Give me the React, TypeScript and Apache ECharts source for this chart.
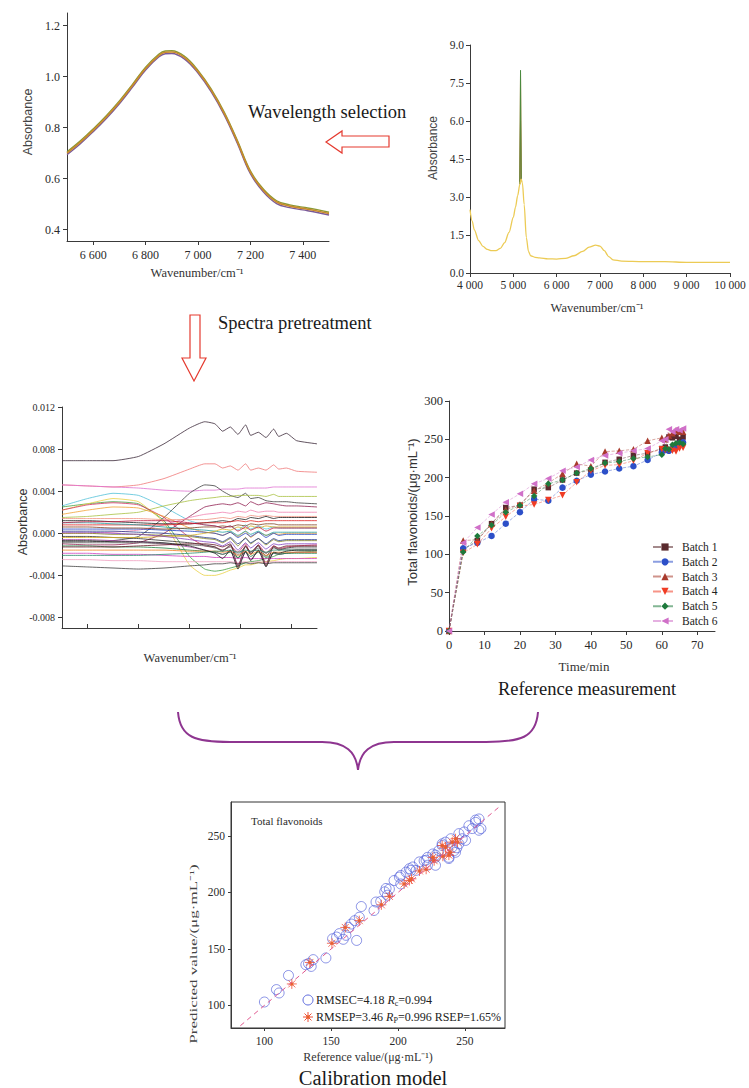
import React, { useEffect, useRef } from 'react';
import * as echarts from 'echarts';

const SERIF = "'Liberation Serif', 'Times New Roman', serif";
const SANS = "'Liberation Sans', Arial, sans-serif";

// ---------- Panel 1: selected wavelength region ----------
const SPEC1_X = [6500, 6550, 6600, 6650, 6700, 6750, 6800, 6850, 6875, 6900, 6950, 7000, 7050, 7100, 7150, 7200, 7250, 7300, 7350, 7400, 7450, 7500];
const SPEC1_ORANGE = [0.700, 0.742, 0.790, 0.842, 0.900, 0.965, 1.032, 1.083, 1.096, 1.097, 1.074, 1.020, 0.947, 0.856, 0.745, 0.625, 0.553, 0.508, 0.492, 0.483, 0.474, 0.463];
const SPEC1_PURPLE = [0.694, 0.736, 0.784, 0.836, 0.894, 0.959, 1.026, 1.077, 1.090, 1.091, 1.068, 1.014, 0.941, 0.850, 0.739, 0.619, 0.547, 0.502, 0.486, 0.477, 0.468, 0.457];
const SPEC1_OLIVE = [0.705, 0.747, 0.795, 0.847, 0.905, 0.970, 1.037, 1.088, 1.101, 1.102, 1.079, 1.025, 0.952, 0.861, 0.750, 0.630, 0.558, 0.513, 0.497, 0.488, 0.479, 0.468];
const SPEC1_Y_TICKS = [0.4, 0.6, 0.8, 1.0, 1.2];
const SPEC1_X_TICKS = [6600, 6800, 7000, 7200, 7400];

// ---------- Panel 2: full raw spectrum ----------
const SPEC2_X = [4000, 4050, 4100, 4200, 4300, 4400, 4500, 4600, 4700, 4800, 4900, 5000, 5050, 5100, 5150, 5180, 5210, 5250, 5300, 5350, 5400, 5500, 5600, 5800, 6000, 6200, 6400, 6600, 6750, 6900, 7000, 7100, 7200, 7300, 7500, 8000, 8500, 9000, 9500, 10000];
const SPEC2_Y = [2.50, 2.05, 1.70, 1.28, 1.05, 0.93, 0.88, 0.88, 0.97, 1.20, 1.60, 2.20, 2.60, 3.05, 3.50, 3.70, 3.55, 2.70, 1.40, 0.85, 0.68, 0.62, 0.60, 0.56, 0.55, 0.58, 0.68, 0.85, 1.02, 1.10, 1.06, 0.88, 0.65, 0.52, 0.47, 0.45, 0.45, 0.42, 0.42, 0.42];
const SPIKE_X = [5150, 5166, 5182];
const SPIKE_GREEN = [3.5, 8.0, 3.7];
const SPIKE_ORANGE = [3.5, 7.9, 3.7];
const SPIKE_BROWN = [3.6, 6.0, 3.7];

// ---------- Panel 3: pretreated spectra ----------
const PRE_X = [6500, 6600, 6700, 6800, 6900, 7000, 7060, 7100, 7130, 7160, 7190, 7220, 7240, 7270, 7300, 7330, 7350, 7380, 7420, 7500];
const preTop = [0.0069, 0.0069, 0.0069, 0.0073, 0.0085, 0.0100, 0.0106, 0.0104, 0.0097, 0.0101, 0.0094, 0.0103, 0.0093, 0.0096, 0.0091, 0.0099, 0.0092, 0.0095, 0.0088, 0.0085];
const preRed = [0.0046, 0.0045, 0.0044, 0.0046, 0.0052, 0.0061, 0.0066, 0.0066, 0.0062, 0.0064, 0.0060, 0.0066, 0.0060, 0.0062, 0.0060, 0.0065, 0.0061, 0.0062, 0.0059, 0.0058];
const preMagenta = [0.0046, 0.0045, 0.0044, 0.0043, 0.0041, 0.0040, 0.0041, 0.0041, 0.0042, 0.0042, 0.0042, 0.0043, 0.0043, 0.0043, 0.0043, 0.0044, 0.0044, 0.0044, 0.0044, 0.0044];
const preCyan = [0.0026, 0.0033, 0.0038, 0.0036, 0.0025, 0.0012, 0.0008, 0.0007, 0.0005, 0.0007, 0.0003, 0.0008, 0.0004, 0.0007, 0.0004, 0.0006, 0.0005, 0.0005, 0.0005, 0.0005];
const preGreen = [0.0025, 0.0028, 0.0030, 0.0028, 0.0012, -0.0022, -0.0034, -0.0036, -0.0035, -0.0033, -0.0031, -0.0028, -0.0027, -0.0026, -0.0024, -0.0022, -0.0020, -0.0019, -0.0018, -0.0017];
const preYellow = [0.0022, 0.0028, 0.0033, 0.0030, 0.0010, -0.0030, -0.0040, -0.0040, -0.0038, -0.0035, -0.0033, -0.0030, -0.0030, -0.0028, -0.0027, -0.0026, -0.0025, -0.0024, -0.0024, -0.0023];
const preDark = [-0.0008, -0.0008, -0.0007, -0.0003, 0.0015, 0.0038, 0.0046, 0.0045, 0.0040, 0.0036, 0.0034, 0.0038, 0.0033, 0.0034, 0.0031, 0.0030, 0.0030, 0.0030, 0.0029, 0.0028];
const preLime = [0.0015, 0.0016, 0.0018, 0.0020, 0.0026, 0.0031, 0.0033, 0.0034, 0.0035, 0.0035, 0.0036, 0.0036, 0.0036, 0.0036, 0.0035, 0.0037, 0.0035, 0.0035, 0.0035, 0.0035];
const preCrimson = [0.0022, 0.0027, 0.0029, 0.0027, 0.0015, -0.0004, -0.0012, -0.0013, -0.0016, -0.0012, -0.0018, -0.0010, -0.0020, -0.0011, -0.0019, -0.0012, -0.0015, -0.0013, -0.0012, -0.0011];
const preOrange = [0.0018, 0.0022, 0.0025, 0.0024, 0.0016, 0.0005, 0.0001, 0.0000, -0.0002, 0.0001, -0.0003, 0.0002, -0.0004, 0.0001, -0.0002, 0.0000, -0.0001, 0.0000, 0.0000, 0.0000];
const preWine = [-0.0010, -0.0011, -0.0011, -0.0009, 0.0000, 0.0016, 0.0025, 0.0027, 0.0028, 0.0027, 0.0029, 0.0026, 0.0030, 0.0027, 0.0029, 0.0028, 0.0027, 0.0026, 0.0026, 0.0025];
const prePink = [0.0000, 0.0000, 0.0001, 0.0003, 0.0008, 0.0015, 0.0018, 0.0019, 0.0020, 0.0019, 0.0021, 0.0020, 0.0022, 0.0020, 0.0021, 0.0021, 0.0020, 0.0020, 0.0020, 0.0020];
const preBlack = [0.0012, 0.0012, 0.0011, 0.0010, 0.0009, 0.0009, 0.0010, 0.0011, 0.0012, 0.0011, 0.0014, 0.0013, 0.0015, 0.0014, 0.0016, 0.0014, 0.0015, 0.0015, 0.0015, 0.0015];
const preScarlet = [0.0008, 0.0008, 0.0008, 0.0008, 0.0008, 0.0009, 0.0010, 0.0010, 0.0010, 0.0011, 0.0012, 0.0011, 0.0012, 0.0011, 0.0012, 0.0012, 0.0012, 0.0012, 0.0012, 0.0012];
const preBlue = [0.0004, 0.0004, 0.0004, 0.0004, 0.0003, 0.0002, 0.0001, 0.0000, -0.0002, 0.0001, -0.0004, 0.0000, -0.0003, 0.0001, -0.0004, 0.0000, -0.0002, -0.0001, -0.0001, -0.0001];
const preOlive = [0.0000, 0.0000, -0.0001, -0.0001, -0.0002, -0.0003, -0.0005, -0.0006, -0.0009, -0.0005, -0.0012, -0.0004, -0.0010, -0.0005, -0.0011, -0.0006, -0.0008, -0.0007, -0.0007, -0.0007];
const preCharcoal = [-0.0003, -0.0003, -0.0004, -0.0005, -0.0007, -0.0009, -0.0011, -0.0013, -0.0017, -0.0011, -0.0024, -0.0012, -0.0020, -0.0012, -0.0022, -0.0013, -0.0016, -0.0014, -0.0013, -0.0013];
const prePurple = [-0.0006, -0.0006, -0.0007, -0.0008, -0.0010, -0.0013, -0.0016, -0.0018, -0.0020, -0.0017, -0.0030, -0.0018, -0.0025, -0.0017, -0.0028, -0.0019, -0.0020, -0.0019, -0.0018, -0.0018];
const preForest = [-0.0012, -0.0012, -0.0013, -0.0013, -0.0014, -0.0016, -0.0017, -0.0018, -0.0020, -0.0018, -0.0023, -0.0018, -0.0022, -0.0018, -0.0023, -0.0019, -0.0020, -0.0019, -0.0019, -0.0019];
const preOrchid = [-0.0019, -0.0019, -0.0020, -0.0020, -0.0021, -0.0022, -0.0022, -0.0023, -0.0023, -0.0023, -0.0024, -0.0023, -0.0024, -0.0024, -0.0024, -0.0024, -0.0024, -0.0024, -0.0024, -0.0024];
const preRose = [-0.0025, -0.0025, -0.0026, -0.0026, -0.0027, -0.0027, -0.0027, -0.0027, -0.0027, -0.0027, -0.0028, -0.0027, -0.0028, -0.0027, -0.0028, -0.0027, -0.0027, -0.0027, -0.0027, -0.0027];
const preBottom = [-0.0031, -0.0032, -0.0033, -0.0034, -0.0033, -0.0031, -0.0030, -0.0029, -0.0029, -0.0028, -0.0029, -0.0028, -0.0029, -0.0028, -0.0029, -0.0028, -0.0028, -0.0028, -0.0028, -0.0028];
const preTeal = [0.0010, 0.0010, 0.0009, 0.0008, 0.0006, 0.0004, 0.0003, 0.0002, 0.0001, 0.0002, -0.0002, 0.0002, -0.0001, 0.0002, -0.0002, 0.0001, 0.0001, 0.0001, 0.0001, 0.0001];
const preAmber = [-0.0016, -0.0016, -0.0016, -0.0016, -0.0016, -0.0017, -0.0017, -0.0017, -0.0018, -0.0017, -0.0021, -0.0017, -0.0020, -0.0017, -0.0021, -0.0018, -0.0018, -0.0018, -0.0018, -0.0018];
const preBrown = [0.0006, 0.0006, 0.0005, 0.0005, 0.0004, 0.0005, 0.0006, 0.0006, 0.0007, 0.0006, 0.0008, 0.0007, 0.0009, 0.0008, 0.0009, 0.0009, 0.0008, 0.0008, 0.0008, 0.0008];
const preGray = [-0.0009, -0.0009, -0.0009, -0.0009, -0.0010, -0.0011, -0.0012, -0.0014, -0.0016, -0.0013, -0.0020, -0.0013, -0.0018, -0.0014, -0.0019, -0.0014, -0.0015, -0.0015, -0.0015, -0.0015];
const preNavy = [0.0002, 0.0002, 0.0002, 0.0001, 0.0000, -0.0002, -0.0004, -0.0005, -0.0008, -0.0004, -0.0010, -0.0005, -0.0009, -0.0005, -0.0010, -0.0005, -0.0007, -0.0006, -0.0006, -0.0006];
const preMaroon = [-0.0013, -0.0013, -0.0013, -0.0012, -0.0011, -0.0010, -0.0010, -0.0011, -0.0013, -0.0010, -0.0032, -0.0012, -0.0018, -0.0011, -0.0031, -0.0012, -0.0014, -0.0012, -0.0012, -0.0012];
const preSalmon = [0.0014, 0.0014, 0.0014, 0.0014, 0.0013, 0.0013, 0.0013, 0.0014, 0.0015, 0.0014, 0.0016, 0.0015, 0.0017, 0.0016, 0.0017, 0.0016, 0.0016, 0.0016, 0.0016, 0.0016];
const preGold = [-0.0004, -0.0004, -0.0004, -0.0004, -0.0003, -0.0002, 0.0000, 0.0002, 0.0004, 0.0003, 0.0006, 0.0004, 0.0007, 0.0005, 0.0007, 0.0006, 0.0006, 0.0006, 0.0006, 0.0006];
const preViolet = [0.0001, 0.0001, 0.0000, -0.0001, -0.0003, -0.0006, -0.0008, -0.0009, -0.0012, -0.0008, -0.0016, -0.0009, -0.0014, -0.0009, -0.0015, -0.0010, -0.0011, -0.0010, -0.0010, -0.0010];
const preSea = [-0.0021, -0.0021, -0.0021, -0.0021, -0.0020, -0.0019, -0.0018, -0.0017, -0.0017, -0.0016, -0.0018, -0.0016, -0.0017, -0.0016, -0.0018, -0.0016, -0.0016, -0.0016, -0.0016, -0.0016];
const preRuby = [0.0010, 0.0011, 0.0011, 0.0012, 0.0012, 0.0010, 0.0008, 0.0007, 0.0005, 0.0007, 0.0002, 0.0006, 0.0003, 0.0006, 0.0002, 0.0005, 0.0005, 0.0005, 0.0005, 0.0005];
const preInk = [-0.0007, -0.0007, -0.0008, -0.0008, -0.0009, -0.0012, -0.0016, -0.0019, -0.0024, -0.0016, -0.0034, -0.0017, -0.0026, -0.0016, -0.0032, -0.0018, -0.0019, -0.0017, -0.0016, -0.0016];
const PRE_LINES = [preTop, preRed, preMagenta, preCyan, preGreen, preYellow, preDark, preLime, preCrimson, preOrange, preWine, prePink, preBlack, preScarlet, preBlue, preOlive, preCharcoal, prePurple, preForest, preOrchid, preRose, preBottom, preTeal, preAmber, preBrown, preGray, preNavy, preMaroon, preSalmon, preGold, preViolet, preSea, preRuby, preInk];
const PRE_COLORS = ['#3b2838', '#f07878', '#e070d0', '#50c0d8', '#40a040', '#e8d040', '#404040', '#a8c040', '#d03060', '#f0a030', '#902050', '#f080b0', '#202020', '#e02020', '#2040c0', '#808020', '#303030', '#a040a0', '#208040', '#d040c0', '#f0a0c0', '#404040', '#20a0a0', '#f08020', '#804020', '#606060', '#283c8c', '#6a1a2a', '#f09080', '#d8b020', '#8040c0', '#2a8a6a', '#c01840', '#1a1a1a'];
const PRE_Y_TICKS = [-0.008, -0.004, 0, 0.004, 0.008, 0.012];
const PRE_X_TICKS = [6600, 6800, 7000, 7200, 7400];

// ---------- Panel 4: reference measurement ----------
const TIME = [0, 4, 8, 12, 16, 20, 24, 28, 32, 36, 40, 44, 48, 52, 56, 60, 61, 62, 63, 64, 65, 66];
const BATCH1 = [0, 106, 118, 140, 161, 164, 185, 187, 197, 206, 210, 220, 224, 229, 232, 238, 240, 253, 252, 254, 250, 253];
const BATCH2 = [0, 108, 115, 124, 140, 155, 172, 170, 187, 196, 204, 208, 212, 215, 223, 233, 236, 235, 238, 240, 245, 246];
const BATCH3 = [0, 118, 119, 140, 158, 165, 183, 193, 205, 218, 215, 234, 235, 237, 248, 252, 250, 255, 258, 262, 260, 260];
const BATCH4 = [0, 102, 113, 134, 149, 163, 165, 171, 177, 194, 209, 216, 217, 222, 232, 237, 236, 236, 235, 234, 238, 239];
const BATCH5 = [0, 103, 124, 138, 155, 164, 176, 192, 197, 206, 212, 219, 221, 225, 227, 230, 238, 237, 243, 245, 246, 244];
const BATCH6 = [0, 115, 135, 152, 168, 179, 192, 199, 209, 214, 223, 229, 232, 235, 238, 248, 250, 263, 260, 263, 262, 264];
const BATCH_NAMES = ['Batch 1', 'Batch 2', 'Batch 3', 'Batch 4', 'Batch 5', 'Batch 6'];
const BATCH_COLORS = ['#5a2a2e', '#2c4fc8', '#a83a2c', '#f03c24', '#1e7a3c', '#d070c8'];
const BATCH_SYMBOLS = ['rect', 'circle', 'triangle', 'triangle', 'diamond', 'triangle'];
const BATCH_ROTATE = [0, 0, 0, 180, 0, 90];
const TIME_TICKS = [0, 10, 20, 30, 40, 50, 60, 70];

// ---------- Panel 5: calibration model ----------
const CAL_REF = [100, 109, 111, 118, 131, 133, 135, 136.5, 146, 151, 154, 156, 159, 161, 163, 165, 167.5, 169, 171, 172.5, 182, 183.5, 187, 190, 192, 193.5, 197, 201, 202, 206, 208.5, 211, 213.5, 216, 219.5, 222, 222, 226, 228, 228, 230.5, 233, 235.5, 238, 239.5, 240.5, 243, 244, 245.5, 248, 250.5, 249.5, 253, 255.5, 258, 260.5, 262, 191, 202, 209.5, 221, 228, 233, 245.5, 242, 238, 258, 260.5];
const CAL_PRED = [103, 114, 111, 126.5, 136, 137, 134.5, 140.5, 142, 159, 160.5, 163.5, 158.5, 162, 169, 172, 175, 157.5, 178, 187.5, 184, 191.5, 192, 200.5, 197.5, 203, 210.5, 213.5, 207.5, 218, 221, 222.5, 219.5, 227, 228, 231, 224, 234, 231, 224, 237, 241.5, 244.5, 231, 247.5, 240, 235.5, 239.5, 243, 247.5, 246, 253.5, 259, 256.5, 262, 265, 256.5, 203.5, 215, 219.5, 228.5, 233, 243, 252, 237, 230, 264, 255];
const VAL_REF = [120.5, 134, 150.5, 160.5, 171, 187.5, 193.5, 204.5, 208.5, 216, 221, 227, 233, 235.5, 239, 240.5, 243, 238, 244.5, 226, 233.5, 210];
const VAL_PRED = [119, 138, 155, 169, 175, 189, 196.5, 207.5, 210.5, 219, 220.5, 228, 241.5, 240, 235.5, 244.5, 247.5, 233, 244.5, 231, 232, 212];
const FIT_LINE = [82, 275];
const CAL_TICKS = [100, 150, 200, 250];

const ASTERISK = 'path://M5 0L5 10M0 5L10 5M1.5 1.5L8.5 8.5M1.5 8.5L8.5 1.5';

function thou(v: number): string {
  return String(v).replace(/\B(?=(\d{3})+(?!\d))/g, ' ');
}

function baseAxis(gridIndex: number, extra: any) {
  return {
    type: 'value',
    gridIndex,
    splitLine: { show: false },
    axisLine: { show: true, onZero: false, lineStyle: { color: '#3a3a3a', width: 1 } },
    axisTick: { show: true, length: 4, lineStyle: { color: '#3a3a3a' } },
    axisLabel: { fontFamily: SERIF, fontSize: 12, color: '#2a2a2a', margin: 5 },
    ...extra,
  };
}

function txt(x: number, y: number, text: string, fontSize: number, opts: any = {}) {
  return {
    type: 'text',
    x,
    y,
    rotation: opts.rotation || 0,
    scaleX: opts.scaleX || 1,
    z: 100,
    style: {
      text,
      fontSize,
      fontFamily: opts.family || SERIF,
      fill: opts.color || '#222',
      align: opts.align || 'center',
      textAlign: opts.align || 'center',
      verticalAlign: 'middle',
      textVerticalAlign: 'middle',
      rich: opts.rich,
    },
  };
}

function buildOption() {
  const grids = [
    { left: 67, top: 13, width: 262, height: 228 },
    { left: 470, top: 45, width: 260, height: 228 },
    { left: 62, top: 407, width: 255, height: 221 },
    { left: 449, top: 401, width: 266, height: 230 },
    { left: 231, top: 802, width: 274, height: 226, show: true, borderColor: '#333', borderWidth: 1 },
  ].map((g) => ({ ...g, containLabel: false, outerBoundsMode: 'none' }));

  const xAxis = [
    baseAxis(0, {
      min: 6500, max: 7500,
      axisTick: { show: true, length: 4, customValues: SPEC1_X_TICKS, lineStyle: { color: '#3a3a3a' } },
      axisLabel: { customValues: SPEC1_X_TICKS, formatter: (v: number) => thou(v), fontFamily: SERIF, fontSize: 12, color: '#2a2a2a', margin: 8 },
    }),
    baseAxis(1, {
      min: 4000, max: 10000, interval: 1000,
      axisLabel: { formatter: (v: number) => thou(v), fontFamily: SERIF, fontSize: 11.5, color: '#2a2a2a', margin: 6 },
    }),
    baseAxis(2, {
      min: 6500, max: 7500,
      axisTick: { show: true, inside: true, length: 4, customValues: PRE_X_TICKS, lineStyle: { color: '#3a3a3a' } },
      axisLabel: { show: false },
    }),
    baseAxis(3, {
      min: 0, max: 75,
      axisTick: { show: true, length: 4, customValues: TIME_TICKS, lineStyle: { color: '#3a3a3a' } },
      axisLabel: { customValues: TIME_TICKS, fontFamily: SERIF, fontSize: 12.5, color: '#2a2a2a', margin: 7 },
    }),
    baseAxis(4, {
      min: 75, max: 280,
      axisTick: { show: true, length: 3, customValues: CAL_TICKS, lineStyle: { color: '#3a3a3a' } },
      axisLabel: { customValues: CAL_TICKS, fontFamily: SERIF, fontSize: 11.5, color: '#2a2a2a', margin: 7 },
    }),
  ];

  const yAxis = [
    baseAxis(0, {
      min: 0.355, max: 1.25,
      axisTick: { show: true, length: 4, customValues: SPEC1_Y_TICKS, lineStyle: { color: '#3a3a3a' } },
      axisLabel: { customValues: SPEC1_Y_TICKS, formatter: (v: number) => v.toFixed(1), fontFamily: SERIF, fontSize: 12, color: '#2a2a2a', margin: 7 },
    }),
    baseAxis(1, {
      min: 0, max: 9, interval: 1.5,
      axisLabel: { formatter: (v: number) => v.toFixed(1), fontFamily: SERIF, fontSize: 11.5, color: '#2a2a2a', margin: 6 },
    }),
    baseAxis(2, {
      min: -0.009, max: 0.012,
      axisTick: { show: true, length: 4, customValues: PRE_Y_TICKS, lineStyle: { color: '#3a3a3a' } },
      axisLabel: { customValues: PRE_Y_TICKS, formatter: (v: number) => v.toFixed(3), fontFamily: SERIF, fontSize: 10, color: '#2a2a2a', margin: 7 },
    }),
    baseAxis(3, {
      min: 0, max: 300, interval: 50,
      axisLabel: { fontFamily: SERIF, fontSize: 12.5, color: '#2a2a2a', margin: 6 },
    }),
    baseAxis(4, {
      min: 80, max: 280,
      axisTick: { show: true, length: 3, customValues: CAL_TICKS, lineStyle: { color: '#3a3a3a' } },
      axisLabel: { customValues: CAL_TICKS, fontFamily: SERIF, fontSize: 11.5, color: '#2a2a2a', margin: 6 },
    }),
  ];

  const series: any[] = [];
  const line = (xi: number, xs: number[], ys: number[], color: string, width: number, extra: any = {}) => ({
    type: 'line',
    xAxisIndex: xi,
    yAxisIndex: xi,
    data: xs.map((x, i) => [x, ys[i]]),
    showSymbol: false,
    symbol: 'none',
    lineStyle: { color, width },
    itemStyle: { color },
    silent: true,
    ...extra,
  });

  // Panel 1
  series.push(line(0, SPEC1_X, SPEC1_OLIVE, '#8a9a34', 1.4, { smooth: 0.4 }));
  series.push(line(0, SPEC1_X, SPEC1_PURPLE, '#7a5a9a', 1.4, { smooth: 0.4 }));
  series.push(line(0, SPEC1_X, SPEC1_ORANGE, '#c98a2c', 1.6, { smooth: 0.4 }));

  // Panel 2
  series.push(line(1, SPIKE_X, SPIKE_BROWN, '#9a4a2a', 1));
  series.push(line(1, SPIKE_X, SPIKE_ORANGE, '#d8862e', 1));
  series.push(line(1, SPIKE_X, SPIKE_GREEN, '#4a8a40', 1));
  series.push(line(1, SPEC2_X, SPEC2_Y, '#eccb55', 1.3, { smooth: 0.3, smoothMonotone: 'x' }));

  // Panel 3
  PRE_LINES.forEach((ys, i) => {
    series.push(line(2, PRE_X, ys, PRE_COLORS[i], 0.8, { smooth: 0.15 }));
  });

  // Panel 4
  const batches = [BATCH1, BATCH2, BATCH3, BATCH4, BATCH5, BATCH6];
  batches.forEach((ys, i) => {
    series.push({
      type: 'line',
      name: BATCH_NAMES[i],
      xAxisIndex: 3,
      yAxisIndex: 3,
      data: TIME.map((t, k) => [t, ys[k]]),
      symbol: BATCH_SYMBOLS[i],
      symbolRotate: BATCH_ROTATE[i],
      symbolSize: i === 0 ? 5.5 : 6.5,
      showSymbol: true,
      lineStyle: { color: BATCH_COLORS[i], width: 0.8, type: 'dashed', opacity: 0.55 },
      itemStyle: { color: BATCH_COLORS[i] },
    });
  });

  // Panel 5
  series.push({
    type: 'line', xAxisIndex: 4, yAxisIndex: 4,
    data: FIT_LINE.map((v) => [v, v]),
    symbol: 'none', silent: true,
    lineStyle: { color: '#e0578e', width: 1, type: [5, 4] },
  });
  series.push({
    type: 'scatter', xAxisIndex: 4, yAxisIndex: 4,
    data: CAL_REF.map((x, i) => [x, CAL_PRED[i]]),
    symbol: 'circle', symbolSize: 10,
    itemStyle: { color: 'rgba(0,0,0,0)', borderColor: '#4a58d8', borderWidth: 0.8 },
  });
  series.push({
    type: 'scatter', xAxisIndex: 4, yAxisIndex: 4,
    data: VAL_REF.map((x, i) => [x, VAL_PRED[i]]),
    symbol: ASTERISK, symbolSize: 10,
    itemStyle: { color: 'rgba(0,0,0,0)', borderColor: '#f0503a', borderWidth: 1 },
  });
  series.push({
    type: 'scatter', xAxisIndex: 4, yAxisIndex: 4,
    data: VAL_REF.map((x, i) => [x, VAL_PRED[i]]),
    symbol: 'circle', symbolSize: 3.5,
    itemStyle: { color: '#e8602a' },
  });

  const RED = '#e53a2f';
  const PURPLE = '#8e3590';
  const sub = { fontSize: 8, fontFamily: SERIF, fill: '#222', padding: [6, 0, 0, 0] };
  const ital = { fontSize: 12, fontFamily: SERIF, fontStyle: 'italic', fill: '#222' };
  const norm = { fontSize: 12, fontFamily: SERIF, fill: '#222' };

  const graphic: any[] = [
    // Panel 1 texts
    txt(28, 122, 'Absorbance', 12.5, { rotation: Math.PI / 2, family: SANS, color: '#444' }),
    txt(197, 273, 'Wavenumber/cm⁻¹', 12.5, { color: '#333' }),
    txt(248, 112, 'Wavelength selection', 18.5, { align: 'left', color: '#1a1a1a' }),
    {
      type: 'polygon', z: 100,
      shape: { points: [[326, 142], [342, 131], [342, 136], [389, 136], [389, 147], [342, 147], [342, 153]] },
      style: { fill: '#fff', stroke: RED, lineWidth: 1.2 },
    },
    // Panel 2 texts
    txt(433, 148, 'Absorbance', 12, { rotation: Math.PI / 2, family: SANS, color: '#444' }),
    txt(597, 308, 'Wavenumber/cm⁻¹', 12.5, { color: '#333' }),
    // Pretreatment arrow
    txt(218, 323, 'Spectra pretreatment', 18.5, { align: 'left', color: '#1a1a1a' }),
    {
      type: 'polygon', z: 100,
      shape: { points: [[190, 315], [200, 315], [200, 358], [206, 358], [194, 381], [182, 358], [190, 358]] },
      style: { fill: '#fff', stroke: RED, lineWidth: 1.2 },
    },
    // Panel 3 texts
    txt(23, 522, 'Absorbance', 12.5, { rotation: Math.PI / 2, family: SANS, color: '#333' }),
    txt(190, 658, 'Wavenumber/cm⁻¹', 12.5, { color: '#333' }),
    // Panel 4 texts
    txt(412, 512, 'Total flavonoids/(μg·mL⁻¹)', 13, { rotation: Math.PI / 2, family: SANS, color: '#333' }),
    txt(584, 666, 'Time/min', 13, { color: '#333' }),
    txt(587, 689, 'Reference measurement', 18.5, { color: '#1a1a1a' }),
    // Brace
    { type: 'bezierCurve', z: 100, shape: { x1: 178, y1: 712, cpx1: 180, cpy1: 738, cpx2: 196, cpy2: 742, x2: 230, y2: 742 }, style: { stroke: PURPLE, lineWidth: 2, fill: 'none' } },
    { type: 'line', z: 100, shape: { x1: 230, y1: 742, x2: 322, y2: 742 }, style: { stroke: PURPLE, lineWidth: 2 } },
    { type: 'bezierCurve', z: 100, shape: { x1: 322, y1: 742, cpx1: 346, cpy1: 742, cpx2: 356, cpy2: 752, x2: 358, y2: 770 }, style: { stroke: PURPLE, lineWidth: 2, fill: 'none' } },
    { type: 'bezierCurve', z: 100, shape: { x1: 358, y1: 770, cpx1: 360, cpy1: 752, cpx2: 370, cpy2: 742, x2: 394, y2: 742 }, style: { stroke: PURPLE, lineWidth: 2, fill: 'none' } },
    { type: 'line', z: 100, shape: { x1: 394, y1: 742, x2: 486, y2: 742 }, style: { stroke: PURPLE, lineWidth: 2 } },
    { type: 'bezierCurve', z: 100, shape: { x1: 486, y1: 742, cpx1: 520, cpy1: 742, cpx2: 536, cpy2: 738, x2: 538, y2: 712 }, style: { stroke: PURPLE, lineWidth: 2, fill: 'none' } },
    // Panel 5 texts
    txt(251, 821, 'Total flavonoids', 11, { align: 'left', color: '#2a2a2a' }),
    txt(193, 954, 'Predicted value/(μg·mL⁻¹)', 11, { rotation: Math.PI / 2, scaleX: 1.55, color: '#444' }),
    txt(368, 1057, 'Reference value/(μg·mL⁻¹)', 12, { color: '#333' }),
    txt(373, 1078, 'Calibration model', 20.5, { color: '#1a1a1a' }),
    { type: 'circle', z: 100, shape: { cx: 308, cy: 1000, r: 5 }, style: { fill: 'none', stroke: '#4a58d8', lineWidth: 0.9 } },
    {
      type: 'text', x: 316, y: 1000, z: 100,
      style: {
        text: '{n|RMSEC=4.18 }{i|R}{s|c}{n|=0.994}', align: 'left', textAlign: 'left', verticalAlign: 'middle', textVerticalAlign: 'middle',
        rich: { n: norm, i: ital, s: sub },
      },
    },
    { type: 'line', z: 100, shape: { x1: 308, y1: 1012, x2: 308, y2: 1022 }, style: { stroke: '#f0503a', lineWidth: 1 } },
    { type: 'line', z: 100, shape: { x1: 303, y1: 1017, x2: 313, y2: 1017 }, style: { stroke: '#f0503a', lineWidth: 1 } },
    { type: 'line', z: 100, shape: { x1: 304.5, y1: 1013.5, x2: 311.5, y2: 1020.5 }, style: { stroke: '#f0503a', lineWidth: 1 } },
    { type: 'line', z: 100, shape: { x1: 304.5, y1: 1020.5, x2: 311.5, y2: 1013.5 }, style: { stroke: '#f0503a', lineWidth: 1 } },
    { type: 'circle', z: 100, shape: { cx: 308, cy: 1017, r: 1.8 }, style: { fill: '#e8602a' } },
    {
      type: 'text', x: 316, y: 1017, z: 100,
      style: {
        text: '{n|RMSEP=3.46 }{i|R}{s|P}{n|=0.996 RSEP=1.65%}', align: 'left', textAlign: 'left', verticalAlign: 'middle', textVerticalAlign: 'middle',
        rich: { n: norm, i: ital, s: sub },
      },
    },
  ];

  return {
    animation: false,
    backgroundColor: '#ffffff',
    grid: grids,
    xAxis,
    yAxis,
    legend: {
      data: BATCH_NAMES,
      orient: 'vertical',
      left: 647,
      top: 536,
      padding: 5,
      itemWidth: 24,
      itemHeight: 9,
      itemGap: 2.8,
      textStyle: { fontFamily: SERIF, fontSize: 11.5, color: '#222' },
      selectedMode: false,
    },
    series,
    graphic,
  };
}

export default function App() {
  const ref = useRef<HTMLDivElement>(null);
  useEffect(() => {
    if (!ref.current) return;
    const chart = echarts.init(ref.current, undefined, { renderer: 'svg' });
    chart.setOption(buildOption() as any);
    return () => chart.dispose();
  }, []);
  return (
    <div
      ref={ref}
      style={{ position: 'absolute', left: 0, top: 0, width: 749, height: 1088, background: '#fff' }}
    />
  );
}
